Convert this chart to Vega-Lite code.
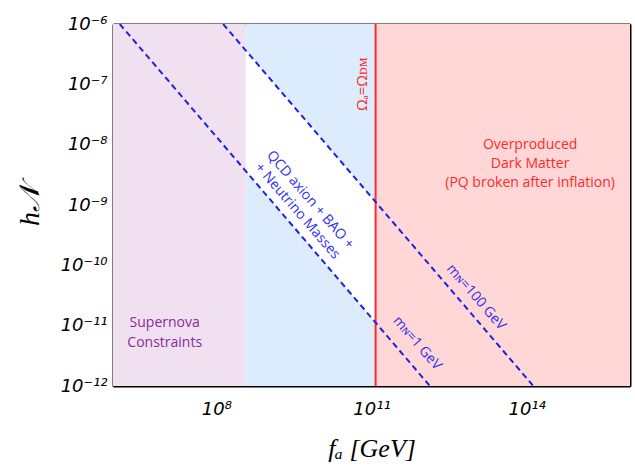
{
  "$schema": "https://vega.github.io/schema/vega-lite/v6.json",
  "width": 517,
  "height": 362,
  "autosize": {"type": "none"},
  "padding": {"left": 113, "top": 24, "right": 5, "bottom": 81},
  "background": "white",
  "config": {
    "view": {"stroke": null},
    "axis": {
      "zindex": 2,
      "domainColor": "black",
      "domainWidth": 2,
      "tickColor": "black",
      "tickWidth": 1,
      "grid": false,
      "labelOverlap": false,
      "labelFlush": false,
      "labelFont": "DejaVu Sans",
      "labelFontStyle": "italic",
      "labelFontSize": 18,
      "labelColor": "black",
      "titleFont": "Liberation Serif",
      "titleFontStyle": "italic",
      "titleFontWeight": "normal",
      "titleColor": "black"
    }
  },
  "datasets": {
    "regions": [
      {"region": "Supernova Constraints", "f_lo": 1e6, "f_hi": 3.7e8},
      {"region": "Cosmology", "f_lo": 3.7e8, "f_hi": 1.2e11},
      {"region": "Overproduced Dark Matter", "f_lo": 1.2e11, "f_hi": 1e16}
    ],
    "window": [
      {"f": 3.7e8, "h_lo": 3.65e-9, "h_hi": 3.65e-7},
      {"f": 1.2e11, "h_lo": 1.124e-11, "h_hi": 1.124e-9}
    ],
    "couplings": [
      {"mass": "1 GeV", "f": 1.349e6, "h": 1e-6},
      {"mass": "1 GeV", "f": 1.349e12, "h": 1e-12},
      {"mass": "100 GeV", "f": 1.349e8, "h": 1e-6},
      {"mass": "100 GeV", "f": 1.349e14, "h": 1e-12}
    ],
    "relic": [{"f": 1.2e11}]
  },
  "resolve": {"axis": {"x": "independent", "y": "independent"}},
  "layer": [
    {
      "data": {"name": "regions"},
      "mark": {"type": "rect"},
      "encoding": {
        "x": {
          "field": "f_lo", "type": "quantitative",
          "scale": {"type": "log", "domain": [1e6, 1e16], "nice": false},
          "axis": {
            "orient": "bottom",
            "values": [1e6, 1e7, 1e8, 1e9, 1e10, 1e11, 1e12, 1e13, 1e14, 1e15, 1e16],
            "tickSize": -4,
            "labelPadding": 18,
            "labelExpr": "(round(log(datum.value)/LN10) == 8 || round(log(datum.value)/LN10) == 11 || round(log(datum.value)/LN10) == 14) ? '10' + (round(log(datum.value)/LN10) >= 10 ? '¹' : '') + ['⁰','¹','²','³','⁴','⁵','⁶','⁷','⁸','⁹'][round(log(datum.value)/LN10) % 10] : ''",
            "title": "fₐ  [GeV]",
            "titleFontSize": 26,
            "titleY": 62,
            "titleBaseline": "middle"
          }
        },
        "x2": {"field": "f_hi"},
        "color": {
          "field": "region", "type": "nominal", "legend": null,
          "scale": {
            "domain": ["Supernova Constraints", "Cosmology", "Overproduced Dark Matter"],
            "range": ["#f0e0f0", "#dcecfd", "#ffd7d7"]
          }
        }
      }
    },
    {
      "data": {"name": "window"},
      "mark": {"type": "area", "color": "white", "opacity": 1, "clip": true},
      "encoding": {
        "x": {"field": "f", "type": "quantitative", "scale": {"type": "log", "domain": [1e6, 1e16], "nice": false}, "axis": null},
        "y": {
          "field": "h_lo", "type": "quantitative",
          "scale": {"type": "log", "domain": [1e-12, 1e-6], "nice": false},
          "axis": {
            "orient": "right",
            "values": [1e-12, 2e-12, 3e-12, 4e-12, 5e-12, 6e-12, 7e-12, 8e-12, 9e-12, 1e-11, 2e-11, 3e-11, 4e-11, 5e-11, 6e-11, 7e-11, 8e-11, 9e-11, 1e-10, 2e-10, 3e-10, 4e-10, 5e-10, 6e-10, 7e-10, 8e-10, 9e-10, 1e-9, 2e-9, 3e-9, 4e-9, 5e-9, 6e-9, 7e-9, 8e-9, 9e-9, 1e-8, 2e-8, 3e-8, 4e-8, 5e-8, 6e-8, 7e-8, 8e-8, 9e-8, 1e-7, 2e-7, 3e-7, 4e-7, 5e-7, 6e-7, 7e-7, 8e-7, 9e-7, 1e-6],
            "labels": false,
            "title": null,
            "tickSize": {"condition": {"test": "abs(log(datum.value)/LN10 - round(log(datum.value)/LN10)) < 0.001", "value": -6}, "value": -3}
          }
        },
        "y2": {"field": "h_hi"}
      }
    },
    {
      "data": {"name": "relic"},
      "mark": {"type": "rule", "color": "#ff2a2a", "strokeWidth": 2},
      "encoding": {
        "x": {
          "field": "f", "type": "quantitative",
          "scale": {"type": "log", "domain": [1e6, 1e16], "nice": false},
          "axis": {
            "orient": "top",
            "values": [1e6, 1e7, 1e8, 1e9, 1e10, 1e11, 1e12, 1e13, 1e14, 1e15, 1e16],
            "labels": false,
            "title": null,
            "tickSize": -4
          }
        }
      }
    },
    {
      "data": {"name": "couplings"},
      "mark": {"type": "line", "color": "#2020e0", "strokeWidth": 2, "strokeDash": [6, 4], "clip": true},
      "encoding": {
        "x": {"field": "f", "type": "quantitative", "scale": {"type": "log", "domain": [1e6, 1e16], "nice": false}, "axis": null},
        "y": {
          "field": "h", "type": "quantitative",
          "scale": {"type": "log", "domain": [1e-12, 1e-6], "nice": false},
          "axis": {
            "orient": "left",
            "values": [1e-12, 2e-12, 3e-12, 4e-12, 5e-12, 6e-12, 7e-12, 8e-12, 9e-12, 1e-11, 2e-11, 3e-11, 4e-11, 5e-11, 6e-11, 7e-11, 8e-11, 9e-11, 1e-10, 2e-10, 3e-10, 4e-10, 5e-10, 6e-10, 7e-10, 8e-10, 9e-10, 1e-9, 2e-9, 3e-9, 4e-9, 5e-9, 6e-9, 7e-9, 8e-9, 9e-9, 1e-8, 2e-8, 3e-8, 4e-8, 5e-8, 6e-8, 7e-8, 8e-8, 9e-8, 1e-7, 2e-7, 3e-7, 4e-7, 5e-7, 6e-7, 7e-7, 8e-7, 9e-7, 1e-6],
            "tickSize": {"condition": {"test": "abs(log(datum.value)/LN10 - round(log(datum.value)/LN10)) < 0.001", "value": -6}, "value": -3},
            "labelPadding": 12,
            "labelExpr": "abs(log(datum.value)/LN10 - round(log(datum.value)/LN10)) < 0.001 ? '10⁻' + (round(-log(datum.value)/LN10) >= 10 ? '¹' : '') + ['⁰','¹','²','³','⁴','⁵','⁶','⁷','⁸','⁹'][round(-log(datum.value)/LN10) % 10] : ''",
            "title": "h𝒩",
            "titleFontSize": 28,
            "titleX": -83,
            "titleY": 181,
            "titleAlign": "center",
            "titleBaseline": "middle",
            "titleAngle": -90
          }
        },
        "detail": {"field": "mass", "type": "nominal"}
      }
    },
    {
      "data": {"values": [{"f": 1e7, "h": 1.1e-11, "text": "Supernova\nConstraints"}]},
      "mark": {"type": "text", "font": "Open Sans", "fontSize": 14, "color": "#8a2a9a", "lineBreak": "\n", "lineHeight": 20, "align": "center", "baseline": "middle"},
      "encoding": {
        "x": {"field": "f", "type": "quantitative", "scale": {"type": "log", "domain": [1e6, 1e16], "nice": false}, "axis": null},
        "y": {"field": "h", "type": "quantitative", "scale": {"type": "log", "domain": [1e-12, 1e-6], "nice": false}, "axis": null},
        "text": {"field": "text"}
      }
    },
    {
      "data": {"values": [{"f": 1.17e14, "h": 1e-8, "text": "Overproduced\nDark Matter\n(PQ broken after inflation)"}]},
      "mark": {"type": "text", "font": "Open Sans", "fontSize": 14, "color": "#ff2a2a", "lineBreak": "\n", "lineHeight": 19, "align": "center", "baseline": "middle"},
      "encoding": {
        "x": {"field": "f", "type": "quantitative", "scale": {"type": "log", "domain": [1e6, 1e16], "nice": false}, "axis": null},
        "y": {"field": "h", "type": "quantitative", "scale": {"type": "log", "domain": [1e-12, 1e-6], "nice": false}, "axis": null},
        "text": {"field": "text"}
      }
    },
    {
      "data": {"values": [{"f": 6.6e10, "h": 1e-7, "text": "Ωₐ=Ωᴅᴍ"}]},
      "mark": {"type": "text", "font": "Open Sans", "fontSize": 15, "color": "#ff2a2a", "angle": 270, "align": "center", "baseline": "middle"},
      "encoding": {
        "x": {"field": "f", "type": "quantitative", "scale": {"type": "log", "domain": [1e6, 1e16], "nice": false}, "axis": null},
        "y": {"field": "h", "type": "quantitative", "scale": {"type": "log", "domain": [1e-12, 1e-6], "nice": false}, "axis": null},
        "text": {"field": "text"}
      }
    },
    {
      "data": {"values": [
        {"f": 6.5e9, "h": 1.21e-9, "text": "QCD axion + BAO +\n+ Neutrino Masses"},
        {"f": 1.05e13, "h": 2.95e-11, "text": "mɴ=100 GeV"},
        {"f": 7.6e11, "h": 5.1e-12, "text": "mɴ=1 GeV"}
      ]},
      "mark": {"type": "text", "font": "Open Sans", "fontSize": 14, "color": "#3030f0", "angle": 49, "lineBreak": "\n", "lineHeight": 17, "align": "center", "baseline": "middle"},
      "encoding": {
        "x": {"field": "f", "type": "quantitative", "scale": {"type": "log", "domain": [1e6, 1e16], "nice": false}, "axis": null},
        "y": {"field": "h", "type": "quantitative", "scale": {"type": "log", "domain": [1e-12, 1e-6], "nice": false}, "axis": null},
        "text": {"field": "text"}
      }
    }
  ]
}
